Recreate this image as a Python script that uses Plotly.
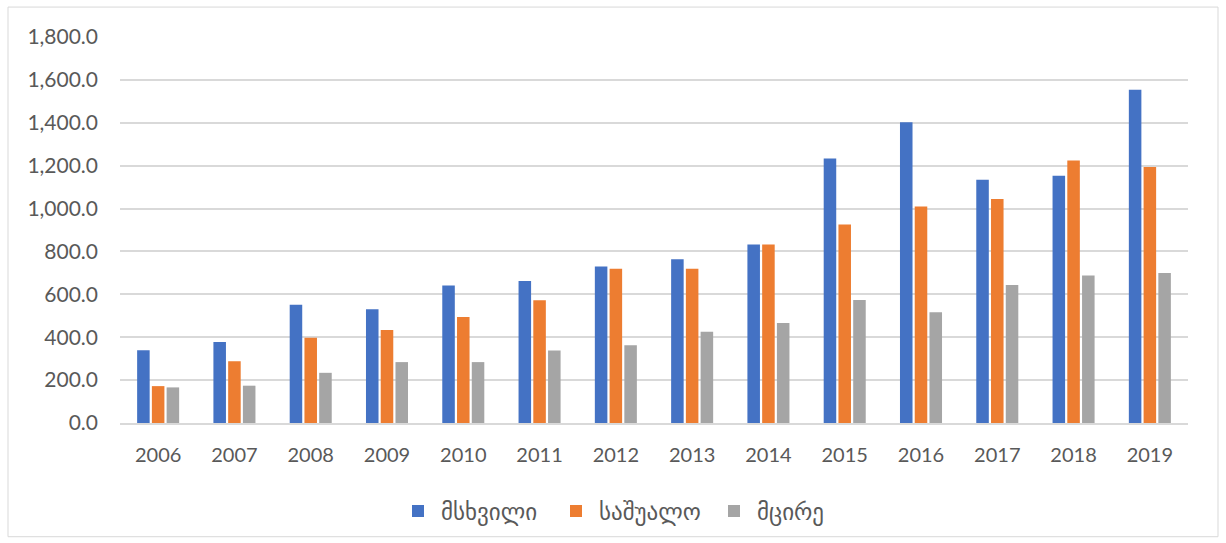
import plotly.graph_objects as go

# Categories and series values
years = ["2006", "2007", "2008", "2009", "2010", "2011", "2012",
         "2013", "2014", "2015", "2016", "2017", "2018", "2019"]
large = [339, 378, 552, 531, 641, 662, 730, 764, 832, 1233, 1402, 1134, 1153, 1554]
medium = [172, 288, 398, 434, 494, 572, 719, 719, 832, 926, 1010, 1044, 1224, 1194]
small = [166, 174, 234, 284, 284, 338, 363, 426, 466, 573, 516, 643, 688, 700]

series_names = ["მსხვილი", "საშუალო", "მცირე"]
series_colors = ["#4472C4", "#ED7D31", "#A5A5A5"]

TEXT = "#595959"
GRID = "#D9D9D9"

fig = go.Figure()
for name, vals, color in zip(series_names, [large, medium, small], series_colors):
    fig.add_trace(go.Bar(x=years, y=vals, name=name, marker_color=color,
                         marker_line_width=0))

W, H = 1226, 543
ml, mr, mt, mb = 120, 38, 37, 119
pw, ph = W - ml - mr, H - mt - mb

def px_x(p):
    return (p - ml) / pw

def px_y(p):
    return (H - mb - p) / ph

fig.update_layout(
    width=W, height=H,
    margin=dict(l=ml, r=mr, t=mt, b=mb, pad=0),
    paper_bgcolor="white", plot_bgcolor="white",
    font=dict(family="Lato, 'DejaVu Sans', sans-serif", size=20, color=TEXT),
    barmode="group", bargap=0.42, bargroupgap=0.15,
    showlegend=True,
    legend=dict(orientation="h", x=px_x(632), xanchor="center",
                y=px_y(511), yanchor="middle",
                font=dict(size=23, color=TEXT), itemwidth=36,
                entrywidth=107, entrywidthmode="pixels",
                traceorder="normal"),
    shapes=[dict(type="rect", xref="paper", yref="paper",
                 x0=px_x(8), x1=px_x(1218), y0=px_y(538), y1=px_y(7),
                 line=dict(color="#D9D9D9", width=1), layer="below")],
)

fig.update_xaxes(showgrid=False, showline=True, linecolor=GRID, linewidth=2,
                 ticks="", ticklabelstandoff=13, tickfont=dict(size=20, color=TEXT))
fig.update_yaxes(range=[0, 1800], dtick=200, tickformat=",.1f",
                 showgrid=True, gridcolor=GRID, gridwidth=1.5,
                 zeroline=False, showline=False, ticks="",
                 ticklabelstandoff=21, tickfont=dict(size=21, color=TEXT))

fig.write_html("out.html")
